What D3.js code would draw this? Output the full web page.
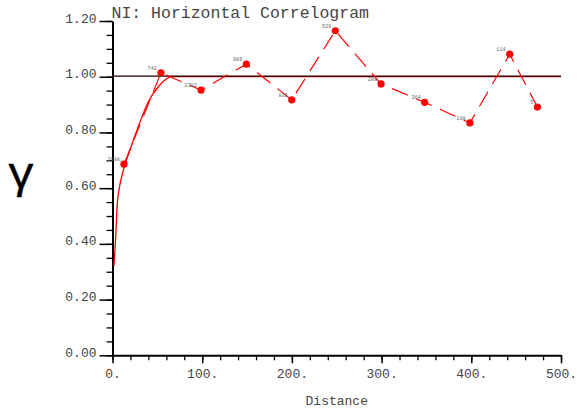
<!DOCTYPE html>
<html>
<head>
<meta charset="utf-8">
<script src="https://cdn.jsdelivr.net/npm/d3@7"></script>
<style>
  html, body { margin: 0; padding: 0; background: #fff; }
  svg { display: block; }
  text { font-family: "Liberation Mono", "DejaVu Sans Mono", monospace; }
</style>
</head>
<body>
<svg id="chart" width="577" height="416"></svg>
<script>
// ---- data ----
const lagDist    = [12.8, 54.0, 98.7, 149.2, 199.8, 248.4, 299.4, 348.0, 398.4, 442.8, 473.7];
const gammaVals  = [0.686, 1.014, 0.952, 1.045, 0.917, 1.165, 0.974, 0.908, 0.834, 1.081, 0.891];
const pairCounts = [2088, 741, 2382, 989, 836, 526, 288, 364, 188, 114, 5];

const modelDist  = [1.6, 3.6, 5.4, 7.2, 12.8, 19.5, 28.8, 39.9, 51.1, 58.5, 65.2, 75, 500];
const modelGamma = [0.322, 0.426, 0.547, 0.593, 0.672, 0.737, 0.821, 0.910, 0.964, 0.988, 1.0, 1.0, 1.0];

const sillValue = [1.0];

const xMajorTicks = [0, 100, 200, 300, 400, 500];
const yMajorTicks = [0, 0.2, 0.4, 0.6, 0.8, 1.0, 1.2];

const titleText = "NI: Horizontal Correlogram";
const xTitle = "Distance";
const yTitle = "γ";

// ---- drawing ----
const svg = d3.select("#chart");
const x = d3.scaleLinear().domain([0, 500]).range([112.5, 561]);
const y = d3.scaleLinear().domain([0, 1.2]).range([355.3, 21]);

const xMinor = d3.range(0, 501, 20);
const yMinor = d3.range(0, 1.2001, 0.05);

// minor x ticks
svg.append("g").attr("transform", `translate(0,${y(0)})`)
  .call(d3.axisBottom(x).tickValues(xMinor).tickSize(5).tickFormat(""))
  .call(g => g.select(".domain").remove())
  .call(g => g.selectAll("line").attr("stroke", "#000").attr("stroke-width", 1.3));

// major x axis
const gx = svg.append("g").attr("transform", `translate(0,${y(0)})`)
  .call(d3.axisBottom(x).tickValues(xMajorTicks).tickSize(8).tickSizeOuter(0).tickFormat(d => d + "."));
gx.select(".domain").attr("stroke", "#000").attr("stroke-width", 2);
gx.selectAll("line").attr("stroke", "#000").attr("stroke-width", 1.5);
gx.selectAll("text").attr("y", 23).attr("dy", 0).attr("font-size", 13)
  .attr("font-family", "Liberation Mono").attr("fill", "#444");

// minor y ticks
svg.append("g").attr("transform", `translate(${x(0)},0)`)
  .call(d3.axisLeft(y).tickValues(yMinor).tickSize(6).tickFormat(""))
  .call(g => g.select(".domain").remove())
  .call(g => g.selectAll("line").attr("stroke", "#000").attr("stroke-width", 1.3));

// major y axis
const gy = svg.append("g").attr("transform", `translate(${x(0)},0)`)
  .call(d3.axisLeft(y).tickValues(yMajorTicks).tickSize(13).tickSizeOuter(0).tickPadding(3).tickFormat(d3.format(".2f")));
gy.select(".domain").attr("stroke", "#000").attr("stroke-width", 2);
gy.selectAll("line").attr("stroke", "#000").attr("stroke-width", 1.5);
gy.selectAll("text").attr("dy", "0.08em").attr("font-size", 13)
  .attr("font-family", "Liberation Mono").attr("fill", "#444");

// model curve
const modelData = modelDist.map((d, i) => [d, modelGamma[i]]);
svg.append("path")
  .datum(modelData)
  .attr("fill", "none")
  .attr("stroke", "#ff0000")
  .attr("stroke-width", 1.3)
  .attr("d", d3.line().x(d => x(d[0])).y(d => y(d[1])).curve(d3.curveMonotoneX));

// sill line
svg.selectAll(".sill").data(sillValue).enter().append("line")
  .attr("x1", x(0)).attr("x2", x(500))
  .attr("y1", d => y(d) - 0.5).attr("y2", d => y(d) - 0.5)
  .attr("stroke", "#1a0000").attr("stroke-width", 1.2);

// experimental dashed line
const expData = lagDist.map((d, i) => ({ h: d, g: gammaVals[i], n: pairCounts[i] }));
svg.append("path")
  .datum(expData)
  .attr("fill", "none")
  .attr("stroke", "#ff0000")
  .attr("stroke-width", 1.2)
  .attr("stroke-dasharray", "17 9")
  .attr("d", d3.line().x(d => x(d.h)).y(d => y(d.g)));

// points
svg.selectAll(".pt").data(expData).enter().append("circle")
  .attr("cx", d => x(d.h)).attr("cy", d => y(d.g)).attr("r", 3.6)
  .attr("fill", "#ff0000");

// pair count labels
svg.selectAll(".lbl").data(expData).enter().append("text")
  .attr("x", d => x(d.h) - 4).attr("y", d => y(d.g) - 3)
  .attr("text-anchor", "end")
  .attr("font-size", 5.2)
  .attr("font-family", "Liberation Sans")
  .attr("fill", "#666")
  .text(d => d.n);

// title
svg.append("text").attr("x", 111.5).attr("y", 18.3)
  .attr("font-size", 16.5).attr("font-family", "Liberation Mono").attr("fill", "#444")
  .text(titleText);

// x title
svg.append("text").attr("x", (x(0) + x(500)) / 2).attr("y", 405)
  .attr("text-anchor", "middle").attr("font-size", 13)
  .attr("font-family", "Liberation Mono").attr("fill", "#444")
  .text(xTitle);

// y title
svg.append("text").attr("x", 21).attr("y", 188)
  .attr("text-anchor", "middle").attr("font-size", 45)
  .attr("stroke", "#000").attr("stroke-width", 0.5)
  .attr("font-family", "Liberation Serif").attr("fill", "#000")
  .text(yTitle);
</script>
</body>
</html>
